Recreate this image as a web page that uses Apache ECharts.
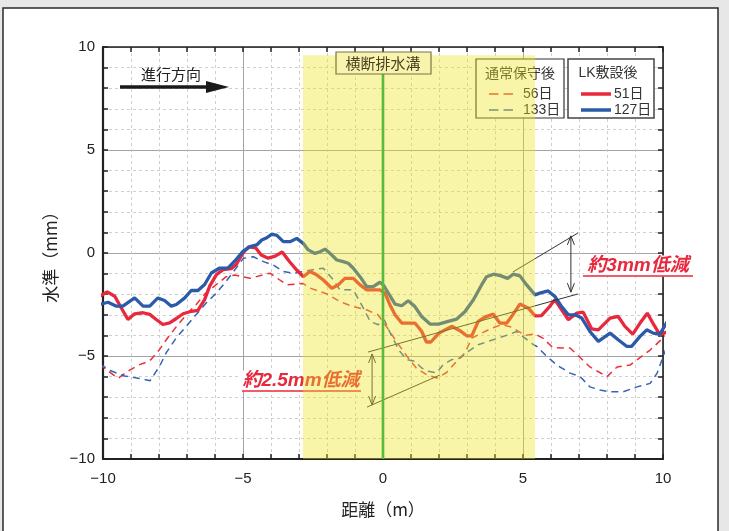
<!DOCTYPE html>
<html><head><meta charset="utf-8">
<script src="https://cdn.jsdelivr.net/npm/echarts@6/dist/echarts.min.js"></script>
<style>html,body{margin:0;padding:0;background:#e7e7e7;}#c{width:729px;height:531px;}</style>
</head><body><div id="c"></div>
<script>
// ---- data (x: 距離 m, y: 水準 mm) ----
const lk51 = [[-10.12,-2.10],[-9.85,-1.89],[-9.58,-2.10],[-9.35,-2.66],[-9.11,-3.23],[-8.87,-2.95],[-8.57,-2.90],[-8.33,-2.98],[-8.1,-3.23],[-7.86,-3.47],[-7.62,-3.39],[-7.38,-3.18],[-7.14,-2.95],[-6.9,-2.85],[-6.61,-2.79],[-6.37,-2.26],[-6.19,-1.61],[-5.95,-1.05],[-5.71,-0.81],[-5.42,-0.76],[-5.24,-0.56],[-5.0,0.0],[-4.8,0.3],[-4.55,0.25],[-4.35,-0.1],[-4.1,-0.25],[-3.85,-0.15],[-3.6,0.05],[-3.35,-0.4],[-3.1,-0.8],[-2.85,-1.15],[-2.61,-0.9],[-2.37,-1.06],[-2.13,-1.31],[-1.83,-1.71],[-1.6,-1.55],[-1.36,-1.23],[-1.06,-1.23],[-0.82,-1.55],[-0.58,-1.79],[-0.35,-1.79],[-0.11,-1.79],[0.07,-1.95],[0.25,-2.52],[0.43,-3.0],[0.67,-3.4],[1.14,-3.4],[1.38,-3.8],[1.55,-4.32],[1.71,-4.32],[2.0,-3.89],[2.45,-3.56],[2.75,-3.77],[2.99,-4.02],[3.17,-4.02],[3.4,-3.32],[3.64,-3.11],[3.94,-2.97],[4.17,-3.4],[4.42,-3.4],[4.65,-2.97],[4.89,-2.48],[5.19,-2.68],[5.43,-3.05],[5.66,-3.04],[5.9,-2.68],[6.14,-2.27],[6.38,-2.76],[6.62,-3.24],[6.92,-2.92],[7.15,-2.87],[7.45,-3.68],[7.69,-3.73],[8.11,-3.16],[8.4,-3.08],[8.64,-3.56],[8.92,-3.94],[9.18,-3.4],[9.44,-2.92],[9.67,-3.48],[9.89,-3.97],[10.19,-3.81]];
const lk127 = [[-10.12,-2.5],[-9.82,-2.39],[-9.52,-2.58],[-9.29,-2.58],[-8.87,-2.18],[-8.57,-2.58],[-8.33,-2.58],[-8.04,-2.18],[-7.8,-2.31],[-7.56,-2.58],[-7.38,-2.5],[-7.08,-2.18],[-6.85,-1.82],[-6.61,-1.82],[-6.37,-1.53],[-6.13,-0.97],[-5.83,-0.73],[-5.54,-0.73],[-5.3,-0.4],[-5.0,0.08],[-4.75,0.31],[-4.51,0.39],[-4.33,0.63],[-4.15,0.74],[-3.98,0.9],[-3.8,0.87],[-3.56,0.55],[-3.32,0.55],[-3.08,0.71],[-2.85,0.47],[-2.67,0.15],[-2.43,-0.02],[-2.25,0.06],[-2.07,0.19],[-1.89,-0.02],[-1.65,-0.34],[-1.42,-0.42],[-1.24,-0.5],[-1.06,-0.74],[-0.82,-1.15],[-0.58,-1.63],[-0.35,-1.63],[-0.11,-1.42],[0.01,-1.55],[0.19,-1.95],[0.43,-2.48],[0.67,-2.56],[0.9,-2.32],[1.14,-2.6],[1.38,-3.08],[1.68,-3.45],[1.98,-3.45],[2.33,-3.32],[2.63,-3.21],[2.93,-2.84],[3.23,-2.27],[3.52,-1.55],[3.7,-1.15],[3.95,-1.03],[4.19,-1.1],[4.45,-1.23],[4.65,-1.03],[4.89,-1.11],[5.13,-1.55],[5.43,-2.03],[5.6,-1.95],[5.9,-1.84],[6.14,-2.11],[6.38,-2.6],[6.62,-3.0],[6.86,-3.0],[7.1,-3.16],[7.39,-3.81],[7.69,-4.29],[8.11,-3.89],[8.4,-4.21],[8.7,-4.53],[8.88,-4.53],[9.18,-4.05],[9.42,-3.73],[9.65,-3.89],[9.89,-3.94],[10.19,-3.24]];
const std56 = [[-10.12,-5.4],[-9.82,-5.73],[-9.46,-6.08],[-9.1,-5.73],[-8.75,-5.45],[-8.33,-5.24],[-7.98,-4.68],[-7.68,-4.1],[-7.32,-3.47],[-6.96,-2.9],[-6.67,-2.5],[-6.37,-2.0],[-5.95,-1.53],[-5.6,-1.15],[-5.3,-1.07],[-4.75,-1.23],[-4.04,-0.98],[-3.43,-1.55],[-2.86,-1.48],[-2.61,-1.7],[-2.0,-1.99],[-1.54,-2.36],[-1.07,-2.6],[-0.57,-2.77],[-0.18,-3.0],[0.13,-3.58],[0.48,-4.3],[0.85,-5.0],[1.2,-5.6],[1.57,-5.92],[1.93,-6.07],[2.27,-5.8],[2.63,-5.26],[2.93,-4.85],[3.17,-4.13],[3.52,-3.89],[3.88,-3.65],[4.24,-3.48],[4.6,-3.6],[5.07,-4.0],[5.43,-3.93],[5.71,-4.13],[6.07,-4.6],[6.68,-4.61],[7.39,-5.53],[8.0,-6.0],[8.36,-5.53],[8.82,-5.44],[9.54,-4.71],[10.0,-4.13],[10.15,-3.9]];
const std133 = [[-10.12,-5.4],[-9.7,-5.73],[-9.23,-5.97],[-8.75,-6.08],[-8.32,-6.2],[-7.98,-5.5],[-7.74,-4.84],[-7.38,-4.11],[-7.02,-3.55],[-6.67,-2.98],[-6.31,-2.42],[-5.95,-1.94],[-5.6,-1.37],[-5.42,-1.05],[-4.99,-0.26],[-4.63,-0.18],[-4.27,-0.42],[-3.92,-0.58],[-3.56,-0.9],[-3.2,-0.98],[-2.85,-0.9],[-2.55,-0.82],[-2.13,-0.74],[-1.77,-1.31],[-1.54,-1.79],[-1.06,-1.79],[-0.7,-2.68],[-0.46,-3.32],[-0.17,-3.48],[0.05,-3.25],[0.31,-4.05],[0.6,-4.77],[0.85,-5.18],[1.14,-5.26],[1.38,-5.58],[1.62,-5.74],[1.92,-5.82],[2.15,-5.42],[2.45,-5.18],[2.75,-5.1],[3.05,-4.77],[3.4,-4.45],[3.76,-4.29],[4.12,-4.13],[4.48,-3.97],[4.77,-3.81],[5.07,-4.13],[5.37,-4.45],[5.5,-4.54],[5.86,-5.03],[6.21,-5.44],[6.68,-5.83],[7.04,-6.0],[7.39,-6.5],[7.75,-6.65],[8.11,-6.74],[8.57,-6.74],[9.07,-6.5],[9.54,-6.33],[9.79,-5.83],[10.0,-5.05],[10.18,-4.37]];
const drainBand = [[-2.86, 9.6, 5.43, -10]];
const drainLine = [[0, 9.6], [0, -10]];
const guideLines = [[-0.54,-4.81,6.96,-1.99],[-0.57,-7.48,2.04,-5.92],[4.64,-0.92,6.96,0.97]];
const guideArrows = [[-0.39,-4.9,-0.39,-7.38],[6.71,0.83,6.71,-1.9]];

const NUMF = '"Liberation Sans", Arial, "Noto Sans CJK JP", sans-serif';
const JF = '"Noto Sans CJK JP", "Liberation Sans", sans-serif';
const RED = '#e8283c', BLUE = '#2a5aa8', RED_D = '#e8303c', BLUE_D = '#3462b4';
const DASH_ICON = 'path://M0,0h9.5v1.6h-9.5z M14.5,0h9.5v1.6h-9.5z';

const fmt = v => String(v).replace('-', '\u2212');
function axisCommon(pos, main) {
  return {
    type: 'value', position: pos, min: -10, max: 10, interval: 5,
    axisLine: { show: true, onZero: false, lineStyle: { color: '#222', width: main ? 2.2 : 1.6 } },
    axisTick: { show: true, inside: true, length: 5, lineStyle: { color: '#222', width: 1.5 } },
    minorTick: { show: true, splitNumber: 5, length: 5, lineStyle: { color: '#222', width: 1.5 } },
    axisLabel: { show: main, formatter: fmt, fontFamily: NUMF, fontSize: 15, color: '#222', margin: pos === 'bottom' ? 12 : 8 },
    splitLine: { show: main, lineStyle: { color: '#a3a3a3', width: 1 } },
    minorSplitLine: { show: main, lineStyle: { color: '#cfcfcf', width: 1, type: [3, 3] } }
  };
}
const xb = axisCommon('bottom', true);
xb.name = '距離（m）'; xb.nameLocation = 'middle'; xb.nameGap = 42;
xb.nameTextStyle = { fontFamily: JF, fontSize: 17, color: '#222' };
const yl = axisCommon('left', true);
yl.name = '水準（mm）'; yl.nameLocation = 'middle'; yl.nameGap = 42;
yl.nameTextStyle = { fontFamily: JF, fontSize: 17, color: '#222' };

const chart = echarts.init(document.getElementById('c'));
chart.setOption({
  animation: false,
  grid: { left: 103, right: 66, top: 47, bottom: 72 },
  xAxis: [xb, axisCommon('top', false)],
  yAxis: [yl, axisCommon('right', false)],
  legend: [
    { data: [{ name: '56日', icon: DASH_ICON }, { name: '133日', icon: DASH_ICON }], left: 484, top: 82, orient: 'vertical',
      itemWidth: 24, itemHeight: 2, itemGap: 2,
      textStyle: { fontFamily: NUMF, fontSize: 14, color: '#333', padding: [0, 0, 0, 5] }, z: 4 },
    { data: [{ name: '51日', icon: 'rect' }, { name: '127日', icon: 'rect' }], left: 576, top: 82, orient: 'vertical',
      itemWidth: 30, itemHeight: 3.5, itemGap: 2,
      textStyle: { fontFamily: NUMF, fontSize: 14, color: '#333', padding: [0, 0, 0, -2] }, z: 4 }
  ],
  series: [
    { name: '56日', type: 'line', data: std56, symbol: 'none', clip: false, z: 2,
      lineStyle: { color: RED_D, width: 1.5, type: [7, 5] }, itemStyle: { color: RED_D } },
    { name: '133日', type: 'line', data: std133, symbol: 'none', clip: false, z: 2,
      lineStyle: { color: BLUE_D, width: 1.5, type: [7, 5] }, itemStyle: { color: BLUE_D } },
    { name: '51日', type: 'line', data: lk51, symbol: 'none', clip: false, z: 2,
      lineStyle: { color: RED, width: 3.3 }, itemStyle: { color: RED } },
    { name: '127日', type: 'line', data: lk127, symbol: 'none', clip: false, z: 2,
      lineStyle: { color: BLUE, width: 3.3 }, itemStyle: { color: BLUE } },
    // guide lines (under the yellow band)
    { type: 'custom', z: 3, silent: true, data: guideLines, encode: { x: [0, 2], y: [1, 3] },
      renderItem: (p, api) => {
        const a = api.coord([api.value(0), api.value(1)]), b = api.coord([api.value(2), api.value(3)]);
        return { type: 'line', shape: { x1: a[0], y1: a[1], x2: b[0], y2: b[1] }, style: { stroke: '#333', lineWidth: 1 } };
      } },
    { type: 'custom', z: 3, silent: true, data: guideArrows, encode: { x: [0, 2], y: [1, 3] },
      renderItem: (p, api) => {
        const a = api.coord([api.value(0), api.value(1)]), b = api.coord([api.value(2), api.value(3)]);
        return { type: 'group', children: [
          { type: 'line', shape: { x1: a[0], y1: a[1], x2: b[0], y2: b[1] }, style: { stroke: '#333', lineWidth: 1 } },
          { type: 'polyline', shape: { points: [[a[0] - 3.5, a[1] + 9], [a[0], a[1]], [a[0] + 3.5, a[1] + 9]] }, style: { stroke: '#333', lineWidth: 1, fill: null } },
          { type: 'polyline', shape: { points: [[b[0] - 3.5, b[1] - 9], [b[0], b[1]], [b[0] + 3.5, b[1] - 9]] }, style: { stroke: '#333', lineWidth: 1, fill: null } }
        ] };
      } },
    // yellow drain band overlay
    { type: 'custom', z: 5, silent: true, data: drainBand, encode: { x: [0, 2], y: [1, 3] },
      renderItem: (p, api) => {
        const a = api.coord([api.value(0), api.value(1)]), b = api.coord([api.value(2), api.value(3)]);
        return { type: 'rect', shape: { x: a[0], y: a[1], width: b[0] - a[0], height: b[1] - a[1] }, style: { fill: 'rgba(237,226,26,0.38)' } };
      } },
    // drain centre line
    { type: 'line', data: drainLine, symbol: 'none', z: 6, silent: true, clip: false,
      lineStyle: { color: '#58bb3a', width: 2.6 } }
  ],
  graphic: [
    { type: 'rect', z: -5, shape: { x: 3, y: 8, width: 715, height: 540 }, style: { fill: '#fff', stroke: '#2a2a2a', lineWidth: 1.5 } },
    // direction arrow
    { type: 'text', z: 3, style: { x: 171, y: 74, text: '進行方向', font: '15px "Noto Sans CJK JP"', fill: '#222', align: 'center', verticalAlign: 'middle' } },
    { type: 'line', z: 3, shape: { x1: 120, y1: 87, x2: 210, y2: 87 }, style: { stroke: '#1a1a1a', lineWidth: 3.5 } },
    { type: 'polygon', z: 3, shape: { points: [[206, 81], [229, 87], [206, 93]] }, style: { fill: '#1a1a1a' } },
    // drain label
    { type: 'rect', z: 10, shape: { x: 336, y: 52, width: 95, height: 22 }, style: { fill: '#f8f3ae', stroke: '#7d7540', lineWidth: 1.2 } },
    { type: 'text', z: 11, style: { x: 383, y: 63.5, text: '横断排水溝', font: '15px "Noto Sans CJK JP"', fill: '#4a4320', align: 'center', verticalAlign: 'middle' } },
    // legend boxes
    { type: 'rect', z: 3, shape: { x: 476, y: 59, width: 88, height: 59 }, style: { fill: '#fff', stroke: '#333', lineWidth: 1.2 } },
    { type: 'text', z: 4, style: { x: 520, y: 73, text: '通常保守後', font: '14px "Noto Sans CJK JP"', fill: '#333', align: 'center', verticalAlign: 'middle' } },
    { type: 'rect', z: 3, shape: { x: 568, y: 59, width: 86, height: 59 }, style: { fill: '#fff', stroke: '#444', lineWidth: 1.5 } },
    { type: 'text', z: 4, style: { x: 608, y: 73, text: 'LK敷設後', font: '14px "Liberation Sans", "Noto Sans CJK JP"', fill: '#333', align: 'center', verticalAlign: 'middle' } },
    // reduction notes
    { type: 'text', z: 3, style: { x: 301, y: 381, text: '約2.5mm低減', font: 'italic bold 19px "Liberation Sans", "Noto Sans CJK JP"', fill: RED, align: 'center', verticalAlign: 'middle', backgroundColor: '#fff', padding: [1, 3, 1, 3] } },
    { type: 'line', z: 3, shape: { x1: 242, y1: 391, x2: 361, y2: 391 }, style: { stroke: RED, lineWidth: 1.5 } },
    { type: 'text', z: 3, style: { x: 638, y: 266, text: '約3mm低減', font: 'italic bold 19px "Liberation Sans", "Noto Sans CJK JP"', fill: RED, align: 'center', verticalAlign: 'middle', backgroundColor: '#fff', padding: [1, 3, 1, 3] } },
    { type: 'line', z: 3, shape: { x1: 583, y1: 276, x2: 693, y2: 276 }, style: { stroke: RED, lineWidth: 1.5 } }
  ]
});
</script>
</body></html>
